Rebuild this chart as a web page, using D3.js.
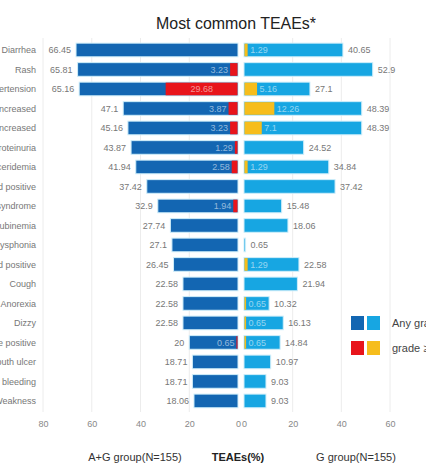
<!DOCTYPE html>
<html>
<head>
<meta charset="utf-8">
<script src="https://cdn.jsdelivr.net/npm/d3@7"></script>
<style>
  body { margin: 0; background: #fff; }
  svg { display: block; }
</style>
</head>
<body>
<div id="chart"></div>
<script>
const categories = [
  "Diarrhea", "Rash", "Hypertension", "ALT increased", "AST increased",
  "Proteinuria", "Hypertriglyceridemia", "Urine occult blood positive",
  "Hand-foot syndrome", "Hyperbilirubinemia", "Dysphonia",
  "Fecal occult blood positive", "Cough", "Anorexia", "Dizzy",
  "Urine leukocyte positive", "Mouth ulcer", "Gingival bleeding", "Weakness"
];
const agAny = [66.45, 65.81, 65.16, 47.1, 45.16, 43.87, 41.94, 37.42, 32.9, 27.74,
  27.1, 26.45, 22.58, 22.58, 22.58, 20, 18.71, 18.71, 18.06];
const agGrade3 = [0, 3.23, 29.68, 3.87, 3.23, 1.29, 2.58, 0, 1.94, 0,
  0, 0, 0, 0, 0, 0.65, 0, 0, 0];
const gAny = [40.65, 52.9, 27.1, 48.39, 48.39, 24.52, 34.84, 37.42, 15.48, 18.06,
  0.65, 22.58, 21.94, 10.32, 16.13, 14.84, 10.97, 9.03, 9.03];
const gGrade3 = [1.29, 0, 5.16, 12.26, 7.1, 0, 1.29, 0, 0, 0,
  0, 1.29, 0, 0.65, 0.65, 0.65, 0, 0, 0];
const leftTicks = [80, 60, 40, 20, 0];
const rightTicks = [0, 20, 40, 60];

const width = 426, height = 464;
const colAG = "#1366b2", colG = "#17a6e2", colAG3 = "#e8141b", colG3 = "#f6bd1c";

const svg = d3.select("#chart").append("svg")
  .attr("width", width).attr("height", height)
  .style("font-family", "'Liberation Sans', Arial, sans-serif");

const y = d3.scaleBand().domain(categories).range([37.3, 413.6]).padding(0.3);
const xL = d3.scaleLinear().domain([0, 80]).range([238, 43]);
const xR = d3.scaleLinear().domain([0, 60]).range([244, 390]);

// grid
svg.append("g").selectAll("line")
  .data(leftTicks.filter(d => d > 0)).enter().append("line")
  .attr("x1", d => xL(d)).attr("x2", d => xL(d))
  .attr("y1", 38).attr("y2", 412)
  .attr("stroke", "#ececec");
svg.append("g").selectAll("line")
  .data(rightTicks.filter(d => d > 0)).enter().append("line")
  .attr("x1", d => xR(d)).attr("x2", d => xR(d))
  .attr("y1", 38).attr("y2", 412)
  .attr("stroke", "#ececec");

// title
svg.append("text")
  .attr("x", 236).attr("y", 29)
  .attr("text-anchor", "middle")
  .attr("font-size", 17)
  .attr("fill", "#222")
  .attr("textLength", 160).attr("lengthAdjust", "spacingAndGlyphs")
  .text("Most common TEAEs*");

// category labels
svg.append("g").selectAll("text")
  .data(categories).enter().append("text")
  .attr("x", 36)
  .attr("y", d => y(d) + y.bandwidth() / 2)
  .attr("dy", "0.35em")
  .attr("text-anchor", "end")
  .attr("font-size", 9)
  .attr("fill", "#777")
  .text(d => d);

const rows = categories.map((c, i) => ({
  cat: c, ag: agAny[i], ag3: agGrade3[i], g: gAny[i], g3: gGrade3[i]
}));

// left bars
const left = svg.append("g");
left.selectAll("rect.any").data(rows).enter().append("rect")
  .attr("x", d => xL(d.ag))
  .attr("y", d => y(d.cat))
  .attr("width", d => xL(0) - xL(d.ag))
  .attr("height", y.bandwidth())
  .attr("fill", colAG)
  .attr("stroke", "#cfeefa").attr("stroke-width", 1);
left.selectAll("rect.g3").data(rows.filter(d => d.ag3 > 0)).enter().append("rect")
  .attr("x", d => xL(d.ag3))
  .attr("y", d => y(d.cat) + 0.5)
  .attr("width", d => xL(0) - xL(d.ag3) - 0.5)
  .attr("height", y.bandwidth() - 1)
  .attr("fill", colAG3);
left.selectAll("text.tot").data(rows).enter().append("text")
  .attr("x", d => xL(d.ag) - 5)
  .attr("y", d => y(d.cat) + y.bandwidth() / 2)
  .attr("dy", "0.35em")
  .attr("text-anchor", "end")
  .attr("font-size", 9)
  .attr("fill", "#777")
  .text(d => d.ag);
left.selectAll("text.in").data(rows.filter(d => d.ag3 > 0)).enter().append("text")
  .attr("x", d => {
    const w = xL(0) - xL(d.ag3);
    return w > 40 ? (xL(d.ag3) + xL(0)) / 2 : xL(d.ag3) - 2;
  })
  .attr("y", d => y(d.cat) + y.bandwidth() / 2)
  .attr("dy", "0.35em")
  .attr("text-anchor", d => (xL(0) - xL(d.ag3) > 40 ? "middle" : "end"))
  .attr("font-size", 9)
  .attr("fill", "rgba(255,255,255,0.55)")
  .text(d => d.ag3);

// right bars
const right = svg.append("g");
right.selectAll("rect.any").data(rows).enter().append("rect")
  .attr("x", xR(0))
  .attr("y", d => y(d.cat))
  .attr("width", d => xR(d.g) - xR(0))
  .attr("height", y.bandwidth())
  .attr("fill", colG)
  .attr("stroke", "#cfeefa").attr("stroke-width", 1);
right.selectAll("rect.g3").data(rows.filter(d => d.g3 > 0)).enter().append("rect")
  .attr("x", xR(0) + 0.5)
  .attr("y", d => y(d.cat) + 0.5)
  .attr("width", d => xR(d.g3) - xR(0))
  .attr("height", y.bandwidth() - 1)
  .attr("fill", colG3);
right.selectAll("text.tot").data(rows).enter().append("text")
  .attr("x", d => xR(d.g) + 5)
  .attr("y", d => y(d.cat) + y.bandwidth() / 2)
  .attr("dy", "0.35em")
  .attr("font-size", 9)
  .attr("fill", "#777")
  .text(d => d.g);
right.selectAll("text.in").data(rows.filter(d => d.g3 > 0)).enter().append("text")
  .attr("x", d => xR(d.g3) + 3)
  .attr("y", d => y(d.cat) + y.bandwidth() / 2)
  .attr("dy", "0.35em")
  .attr("font-size", 9)
  .attr("fill", "rgba(255,255,255,0.55)")
  .text(d => d.g3);

// axes
const axL = svg.append("g")
  .attr("transform", "translate(0,418)")
  .call(d3.axisBottom(xL).tickValues(leftTicks).tickSize(0).tickPadding(3));
const axR = svg.append("g")
  .attr("transform", "translate(0,418)")
  .call(d3.axisBottom(xR).tickValues(rightTicks).tickSize(0).tickPadding(3));
[axL, axR].forEach(a => {
  a.select(".domain").remove();
  a.selectAll("text").attr("font-size", 9).attr("fill", "#888")
    .attr("font-family", "'Liberation Sans', Arial, sans-serif");
});

// bottom titles
svg.append("text").attr("x", 135).attr("y", 461).attr("text-anchor", "middle")
  .attr("font-size", 11).attr("fill", "#333").text("A+G group(N=155)");
svg.append("text").attr("x", 238).attr("y", 461).attr("text-anchor", "middle")
  .attr("font-size", 11).attr("font-weight", "bold").attr("fill", "#222").text("TEAEs(%)");
svg.append("text").attr("x", 356).attr("y", 461).attr("text-anchor", "middle")
  .attr("font-size", 11).attr("fill", "#333").text("G group(N=155)");

// legend
const legend = [
  { label: "Any grade", c1: colAG, c2: colG, y: 316 },
  { label: "grade \u22653", c1: colAG3, c2: colG3, y: 341 }
];
const lg = svg.append("g").selectAll("g").data(legend).enter().append("g")
  .attr("transform", d => `translate(351,${d.y})`);
lg.append("rect").attr("width", 13).attr("height", 14).attr("fill", d => d.c1);
lg.append("rect").attr("x", 16).attr("width", 13).attr("height", 14).attr("fill", d => d.c2);
lg.append("text").attr("x", 41).attr("y", 7).attr("dy", "0.35em")
  .attr("font-size", 11).attr("fill", "#444").text(d => d.label);
</script>
</body>
</html>
